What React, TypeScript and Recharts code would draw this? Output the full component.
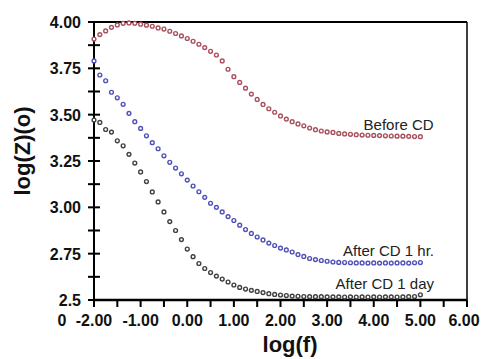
import React from 'react';
import { LineChart, Line, XAxis, YAxis, ReferenceDot } from 'recharts';

const logF = [
  -2, -1.875, -1.75, -1.625, -1.5, -1.375, -1.25, -1.125, -1, -0.875,
  -0.75, -0.625, -0.5, -0.375, -0.25, -0.125, 0, 0.125, 0.25, 0.375,
  0.5, 0.625, 0.75, 0.875, 1, 1.125, 1.25, 1.375, 1.5, 1.625,
  1.75, 1.875, 2, 2.125, 2.25, 2.375, 2.5, 2.625, 2.75, 2.875,
  3, 3.125, 3.25, 3.375, 3.5, 3.625, 3.75, 3.875, 4, 4.125,
  4.25, 4.375, 4.5, 4.625, 4.75, 4.875, 5,
];

const beforeCD = [
  3.908, 3.932, 3.952, 3.971, 3.984, 3.993, 3.995, 3.993, 3.988, 3.983,
  3.977, 3.968, 3.962, 3.950, 3.938, 3.925, 3.911, 3.896, 3.880, 3.862,
  3.842, 3.822, 3.790, 3.745, 3.705, 3.674, 3.643, 3.611, 3.582, 3.555,
  3.532, 3.513, 3.493, 3.476, 3.462, 3.450, 3.440, 3.428, 3.419, 3.412,
  3.407, 3.404, 3.399, 3.396, 3.394, 3.392, 3.390, 3.389, 3.388, 3.387,
  3.386, 3.385, 3.384, 3.384, 3.383, 3.382, 3.381,
];

const afterCD1hr = [
  3.790, 3.714, 3.683, 3.621, 3.591, 3.556, 3.507, 3.462, 3.426, 3.386,
  3.349, 3.316, 3.278, 3.243, 3.212, 3.181, 3.147, 3.115, 3.084, 3.054,
  3.022, 3.000, 2.975, 2.950, 2.929, 2.904, 2.880, 2.859, 2.840, 2.824,
  2.807, 2.794, 2.780, 2.770, 2.759, 2.745, 2.735, 2.724, 2.718, 2.713,
  2.709, 2.705, 2.703, 2.702, 2.701, 2.700, 2.700, 2.699, 2.700, 2.699,
  2.700, 2.699, 2.700, 2.700, 2.699, 2.701, 2.702,
];

const afterCD1day = [
  3.471, 3.458, 3.420, 3.406, 3.359, 3.332, 3.286, 3.239, 3.191, 3.139,
  3.083, 3.029, 2.975, 2.923, 2.875, 2.826, 2.775, 2.734, 2.697, 2.670,
  2.648, 2.629, 2.613, 2.597, 2.581, 2.568, 2.559, 2.552, 2.546, 2.540,
  2.534, 2.530, 2.527, 2.524, 2.521, 2.520, 2.519, 2.518, 2.518, 2.518,
  2.517, 2.517, 2.517, 2.516, 2.517, 2.516, 2.517, 2.516, 2.517, 2.516,
  2.517, 2.517, 2.516, 2.517, 2.518, 2.519, 2.528,
];

const xTicks = [-2, -1.5, -1, -0.5, 0, 0.5, 1, 1.5, 2, 2.5, 3, 3.5, 4, 4.5, 5, 5.5, 6];
const xMajor = [-2, -1, 0, 1, 2, 3, 4, 5, 6];
const xTickLabels = ['-2.00', '-1.00', '0.00', '1.00', '2.00', '3.00', '4.00', '5.00', '6.00'];
const yTicks = [2.5, 2.625, 2.75, 2.875, 3, 3.125, 3.25, 3.375, 3.5, 3.625, 3.75, 3.875, 4];
const yMajor = [2.5, 2.75, 3, 3.25, 3.5, 3.75, 4];
const yTickLabels = ['2.5', '2.75', '3.00', '3.25', '3.50', '3.75', '4.00'];
const rightTicks = [0, 1, 2, 3, 4, 5, 6, 7, 8, 9, 10, 11, 12, 13, 14];

const seriesNames = ['Before CD', 'After CD 1 hr.', 'After CD 1 day'];

const data = logF.map((x, i) => ({
  x,
  before: beforeCD[i],
  hr: afterCD1hr[i],
  day: afterCD1day[i],
}));

const FONT = '"Liberation Sans", Arial, sans-serif';

const XTick = (props: any) => {
  const x = Number(props.x);
  const y = Number(props.y);
  const v = Number(props.payload.value);
  const idx = xMajor.indexOf(v);
  const dx = v === 6 ? -3 : 0;
  return (
    <g>
      <rect x={x - 1} y={y} width={2} height={7} fill="#000" />
      {idx >= 0 && (
        <text x={x + dx} y={y + 26} textAnchor="middle" fontFamily={FONT} fontWeight="bold" fontSize={16} fill="#111">
          {xTickLabels[idx]}
        </text>
      )}
      {v === -2 && (
        <text x={x - 32} y={y + 26} textAnchor="middle" fontFamily={FONT} fontWeight="bold" fontSize={16} fill="#111">
          0
        </text>
      )}
    </g>
  );
};

const YTick = (props: any) => {
  const x = Number(props.x);
  const y = Number(props.y);
  const v = Number(props.payload.value);
  const idx = yMajor.indexOf(v);
  return (
    <g>
      <rect x={x - 6} y={y - 1} width={12} height={2} fill="#000" />
      {idx >= 0 && (
        <text x={x - 13} y={y + 6} textAnchor="end" fontFamily={FONT} fontWeight="bold" fontSize={16} fill="#111">
          {yTickLabels[idx]}
        </text>
      )}
    </g>
  );
};

const RTick = (props: any) => {
  const x = Number(props.x);
  const y = Number(props.y);
  return <rect x={x - 3} y={y - 0.5} width={3} height={1} fill="#555" />;
};

const makeDot = (color: string) => (props: any) => {
  const { cx, cy, index } = props;
  if (cx == null || cy == null) return <g key={index} />;
  return <circle key={index} cx={cx} cy={cy} r={1.9} fill="#fff" stroke={color} strokeWidth={1.4} />;
};

const makeNote = (text: string) => (props: any) => {
  const vb = props.viewBox || {};
  return (
    <text x={vb.x} y={vb.y} textAnchor="end" fontFamily={FONT} fontSize={15} fill="#222">
      {text}
    </text>
  );
};

export default function App() {
  return (
    <div style={{ position: 'absolute', left: 0, top: 0, background: '#fff' }}>
      <LineChart
        width={482}
        height={359}
        data={data}
        margin={{ top: 21, right: 14, bottom: 0, left: 0 }}
      >
        <XAxis
          dataKey="x"
          type="number"
          domain={[-2, 6]}
          ticks={xTicks}
          interval={0}
          tickSize={0}
          tickMargin={0}
          tickLine={false}
          axisLine={{ stroke: '#000', strokeWidth: 2.5 }}
          height={59}
          tick={<XTick />}
          label={{
            content: () => (
              <text x={290} y={352} textAnchor="middle" fontFamily={FONT} fontWeight="bold" fontSize={22} fill="#111">
                log(f)
              </text>
            ),
          }}
        />
        <XAxis
          xAxisId="top"
          dataKey="x"
          orientation="top"
          type="number"
          domain={[-2, 6]}
          height={1}
          tick={false}
          tickLine={false}
          axisLine={{ stroke: '#000', strokeWidth: 2 }}
        />
        <YAxis
          type="number"
          domain={[2.5, 4]}
          ticks={yTicks}
          interval={0}
          width={94}
          tickSize={0}
          tickMargin={0}
          tickLine={false}
          axisLine={{ stroke: '#000', strokeWidth: 2 }}
          tick={<YTick />}
          label={{
            content: () => (
              <text
                x={22}
                y={151}
                transform="rotate(-90 22 151)"
                textAnchor="middle"
                dominantBaseline="central"
                fontFamily={FONT}
                fontWeight="bold"
                fontSize={22}
                fill="#111"
              >
                log(Z)(o)
              </text>
            ),
          }}
        />
        <YAxis
          yAxisId="right"
          orientation="right"
          type="number"
          domain={[0, 14]}
          ticks={rightTicks}
          interval={0}
          width={1}
          tickSize={0}
          tickMargin={0}
          tickLine={false}
          tick={<RTick />}
          axisLine={{ stroke: '#000', strokeWidth: 1.5 }}
        />
        <Line dataKey="before" name={seriesNames[0]} stroke="none" dot={makeDot('#a8505c')} activeDot={false} isAnimationActive={false} />
        <Line dataKey="hr" name={seriesNames[1]} stroke="none" dot={makeDot('#5050b8')} activeDot={false} isAnimationActive={false} />
        <Line dataKey="day" name={seriesNames[2]} stroke="none" dot={makeDot('#404040')} activeDot={false} isAnimationActive={false} />
        <ReferenceDot x={5.284} y={3.417} r={0} fill="none" stroke="none" label={{ content: makeNote(seriesNames[0]) }} />
        <ReferenceDot x={5.292} y={2.737} r={0} fill="none" stroke="none" label={{ content: makeNote(seriesNames[1]) }} />
        <ReferenceDot x={5.292} y={2.559} r={0} fill="none" stroke="none" label={{ content: makeNote(seriesNames[2]) }} />
      </LineChart>
    </div>
  );
}
